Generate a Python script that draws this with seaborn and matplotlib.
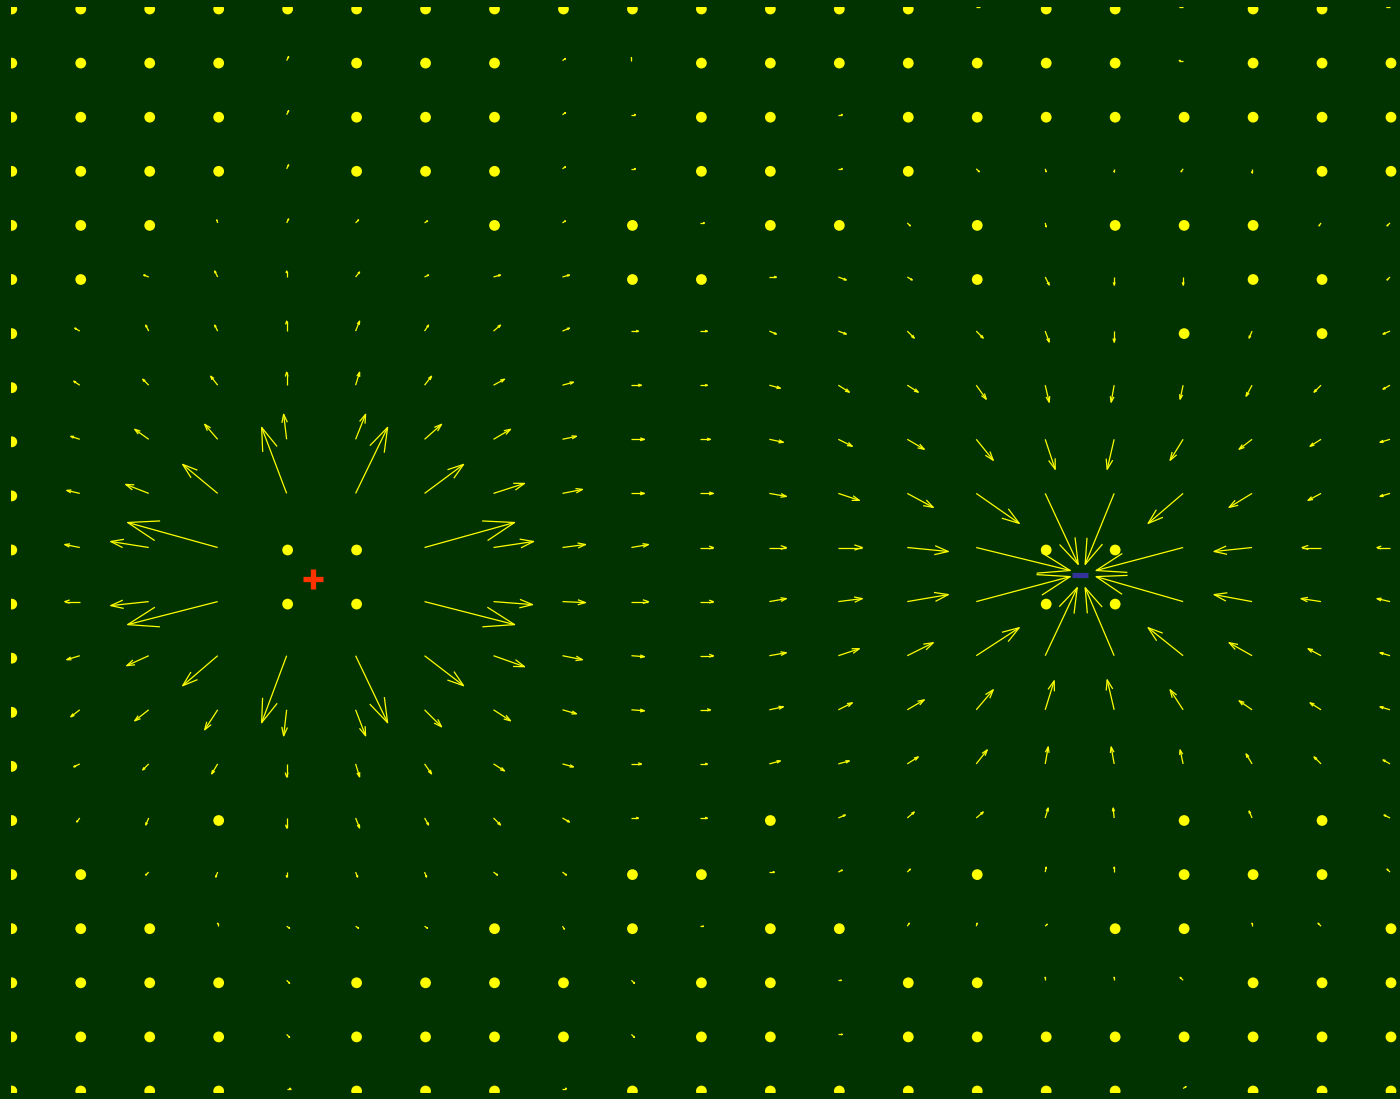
import numpy as np
import matplotlib
matplotlib.use("Agg")
import matplotlib.pyplot as plt
from matplotlib.collections import LineCollection
from matplotlib.transforms import offset_copy
import pandas as pd
import seaborn as sns

# ---------------------------------------------------------------
# Electric field of a +/- charge pair sampled on a 21 x 21 grid.
# Rows run top to bottom, columns left to right.
# U: horizontal component (right positive), V: vertical (up positive).
# A zero vector is shown as a dot.
# ---------------------------------------------------------------
U_ROWS = [
    [0, 0, 0, 0, 0, 0, 0, 0, 0, 0, 0, 0, 0, 0, 4, 0, 0, -4, 0, 0, -4],
    [0, 0, 0, 0, 2, 0, 0, 0, 3, 0, 0, 0, 0, 0, 0, 0, 0, -4, 0, 0, 0],
    [0, 0, 0, 0, 2, 0, 0, 0, 3, 4, 0, 0, 4, 0, 0, 0, 0, 0, 0, 0, 0],
    [0, 0, 0, 0, 2, 0, 0, 0, 3, 4, 0, 0, 4, 0, 3, 1, 0, -2, 0, 0, 0],
    [0, 0, 0, -1, 2, 3, 3, 0, 3, 0, 4, 0, 0, 3, 0, 1, 0, 0, 0, -2, -3],
    [0, 0, -5, -3, 0, 4, 4, 7, 7, 0, 0, 7, 8, 5, 0, 4, 0, 0, 0, 0, -3],
    [0, -5, -3, -3, 0, 4, 4, 7, 7, 7, 7, 7, 8, 7, 7, 4, 0, 0, -3, 0, -7],
    [0, -6, -6, -7, 0, 4, 7, 11, 11, 10, 7, 11, 11, 11, 10, 4, -3, -3, -6, -7, -7],
    [0, -9, -14, -13, -3, 10, 17, 17, 14, 13, 10, 14, 14, 17, 17, 10, -7, -13, -13, -11, -10],
    [0, -13, -23, -35, -25, 32, 39, 31, 20, 13, 13, 17, 21, 26, 43, 33, -29, -35, -23, -13, -10],
    [0, -15, -38, -90, 0, 0, 90, 40, 23, 17, 13, 17, 24, 41, 94, 0, 0, -87, -38, -19, -13],
    [0, -15, -38, -90, 0, 0, 90, 39, 23, 17, 13, 17, 24, 41, 94, 0, 0, -87, -38, -20, -13],
    [0, -13, -22, -35, -25, 32, 39, 31, 20, 13, 13, 17, 21, 26, 43, 32, -29, -35, -23, -13, -10],
    [0, -9, -14, -13, -3, 10, 17, 17, 14, 13, 10, 14, 14, 17, 17, 9, -7, -13, -13, -11, -10],
    [0, -6, -6, -6, 0, 4, 7, 11, 11, 10, 7, 11, 11, 11, 11, 3, -3, -3, -6, -7, -7],
    [0, -3, -3, 0, 0, 4, 4, 7, 7, 7, 7, 0, 7, 7, 7, 3, -1, 0, -3, 0, -6],
    [0, 0, -3, -2, 0, 2, 2, 4, 4, 0, 0, 5, 4, 3, 0, 1, 0, 0, 0, 0, -3],
    [0, 0, 0, 0, 3, 3, 3, 0, 2, 0, 3, 0, 0, 2, 1, 2, 0, 0, 0, -3, 0],
    [0, 0, 0, 0, 3, 0, 0, 0, 0, 3, 0, 0, 3, 0, 0, 0, 0, -3, 0, 0, 0],
    [0, 0, 0, 0, 3, 0, 0, 0, 0, 3, 0, 0, 4, 0, 0, 0, 0, 0, 0, 0, 0],
    [0, 0, 0, 0, 4, 0, 0, 0, 4, 0, 0, 0, 0, 0, 0, 0, 0, 3, 0, 0, 0],
]

V_ROWS = [
    [0, 0, 0, 0, 0, 0, 0, 0, 0, 0, 0, 0, 0, 0, 0, 0, 0, 0, 0, 0, 0],
    [0, 0, 0, 0, 4, 0, 0, 0, 2, 3, 0, 0, 0, 0, 0, 0, 0, 0, 0, 0, 0],
    [0, 0, 0, 0, 4, 0, 0, 0, 2, 0, 0, 0, 0, 0, 0, 0, 0, 0, 0, 0, 0],
    [0, 0, 0, 0, 4, 0, 0, 0, 2, 0, 0, 0, 0, 0, -3, -3, -3, -3, -4, 0, 0],
    [0, 0, 0, 3, 4, 3, 2, 0, 2, 0, 0, 0, 0, -3, 0, -4, 0, 0, 0, -3, -3],
    [0, 0, 2, 6, 6, 5, 2, 2, 2, 0, 0, 0, -3, -3, 0, -8, -8, -8, 0, 0, -3],
    [0, 3, 6, 6, 10, 10, 6, 6, 3, 0, 0, -3, -3, -7, -7, -11, -11, 0, -7, 0, -3],
    [0, 4, 6, 9, 13, 13, 9, 6, 3, 0, 0, -3, -7, -7, -14, -17, -17, -14, -11, -7, -4],
    [0, 3, 10, 15, 25, 25, 15, 10, 3, 0, 0, -3, -7, -10, -21, -30, -30, -21, -10, -7, -3],
    [0, 3, 9, 29, 66, 66, 29, 10, 4, 0, 0, -3, -7, -14, -30, -71, -71, -30, -14, -7, -3],
    [0, 3, 6, 25, 0, 0, 25, 6, 3, 3, 0, 0, 0, -4, -23, 0, 0, -23, -4, 0, 0],
    [0, 0, -4, -23, 0, 0, -23, -3, -1, 0, 0, 3, 3, 7, 25, 0, 0, 25, 7, 3, 3],
    [0, -4, -10, -30, -67, -67, -30, -11, -4, -1, 0, 3, 7, 13, 28, 68, 68, 28, 13, 7, 3],
    [0, -7, -11, -20, -26, -26, -17, -11, -4, -1, 0, 3, 7, 10, 20, 29, 30, 20, 9, 7, 3],
    [0, -3, -6, -10, -13, -13, -10, -7, -3, 0, 0, 3, 3, 7, 14, 17, 17, 14, 10, 7, 4],
    [0, -4, -7, 0, -10, -10, -7, -7, -4, 0, 0, 0, 3, 6, 6, 10, 10, 0, 7, 0, 3],
    [0, 0, -3, -5, -5, -5, -5, -3, -3, 0, 0, 0, 2, 3, 0, 5, 5, 0, 0, 0, 3],
    [0, 0, 0, 3, -2, -2, -2, 0, -3, 0, 0, 0, 0, 3, 3, 2, 0, 0, 3, 3, 0],
    [0, 0, 0, 0, -3, 0, 0, 0, 0, -3, 0, 0, 0, 0, 0, 3, 3, 3, 0, 0, 0],
    [0, 0, 0, 0, -3, 0, 0, 0, 0, -3, 0, 0, 0, 0, 0, 0, 0, 0, 0, 0, 0],
    [0, 0, 0, 0, 0, 0, 0, 0, 0, 0, 0, 0, 0, 0, 0, 0, 0, 2, 0, 0, 0],
]

# point charges (grid coordinates) and their signs
CHARGE_X = [4.38, 15.51]
CHARGE_Y = [10.58, 10.50]
CHARGE_SIGN = ["+", "-"]

# ---------------------------------------------------------------
BG = "#003300"
ARROW_COLOR = "#FFFF00"
POS_COLOR = "#FF3300"
NEG_COLOR = "#333399"

sns.set_theme(style="dark")
plt.rcParams["font.family"] = ["DejaVu Sans"]

FIG_W, FIG_H, DPI = 14.0, 10.99, 100
W_PX, H_PX = FIG_W * DPI, FIG_H * DPI

fig = plt.figure(figsize=(FIG_W, FIG_H), dpi=DPI, facecolor=BG)

# plotting area: first grid column / row sit on the left / top edges
left_px, top_px, bottom_px = 10.8, 6.5, 1093.0
col_step_px, row_step_px = 68.96, 54.1
ax_w_px = W_PX - left_px
ax_h_px = bottom_px - top_px
ax = fig.add_axes([left_px / W_PX, (H_PX - bottom_px) / H_PX,
                   ax_w_px / W_PX, ax_h_px / H_PX])
ax.set_facecolor(BG)
x_max = ax_w_px / col_step_px
y_max = ax_h_px / row_step_px
ax.set_xlim(0, x_max)
ax.set_ylim(y_max, 0)
ax.set_axis_off()

n_rows, n_cols = len(U_ROWS), len(U_ROWS[0])
gx, gy = np.meshgrid(np.arange(n_cols), np.arange(n_rows))
U = np.array(U_ROWS, dtype=float)
V = np.array(V_ROWS, dtype=float)

# data units per screen pixel
sx = x_max / ax_w_px
sy = y_max / ax_h_px

# arrows: shaft plus two barbs, head size proportional to length
alpha = beta = 0.33
u = U          # screen px, right
v = -V         # screen px, down
b1x = u - alpha * (u + beta * v)
b1y = v - alpha * (v - beta * u)
b2x = u - alpha * (u - beta * v)
b2y = v - alpha * (v + beta * u)

segments = []
has_arrow = (U != 0) | (V != 0)
for r, c in zip(*np.nonzero(has_arrow)):
    x0, y0 = gx[r, c], gy[r, c]
    tip = (x0 + u[r, c] * sx, y0 + v[r, c] * sy)
    segments.append([(x0, y0), tip])
    segments.append([(x0 + b1x[r, c] * sx, y0 + b1y[r, c] * sy), tip,
                     (x0 + b2x[r, c] * sx, y0 + b2y[r, c] * sy)])
ax.add_collection(LineCollection(segments, colors=ARROW_COLOR,
                                 linewidths=0.9, capstyle="butt"))

# zero vectors as dots (markers sit a couple of pixels below the grid node)
dot_shift = offset_copy(ax.transData, fig=fig, x=1.0, y=-2.5, units="dots")
dots = pd.DataFrame({"x": gx[~has_arrow], "y": gy[~has_arrow]})
sns.scatterplot(data=dots, x="x", y="y", color=ARROW_COLOR, s=60,
                edgecolor="none", linewidth=0, legend=False, ax=ax,
                transform=dot_shift)

# charges
for cx, cy, sign in zip(CHARGE_X, CHARGE_Y, CHARGE_SIGN):
    if sign == "+":
        ax.plot(cx, cy, marker="+", ms=14, mew=3.8, color=POS_COLOR,
                linestyle="none", zorder=5)
    else:
        ax.plot(cx, cy, marker="_", ms=11, mew=3.8, color=NEG_COLOR,
                linestyle="none", zorder=5)

ax.set_xlim(0, x_max)
ax.set_ylim(y_max, 0)
ax.set_xlabel("")
ax.set_ylabel("")

fig.savefig("out.png", dpi=DPI, facecolor=BG)
